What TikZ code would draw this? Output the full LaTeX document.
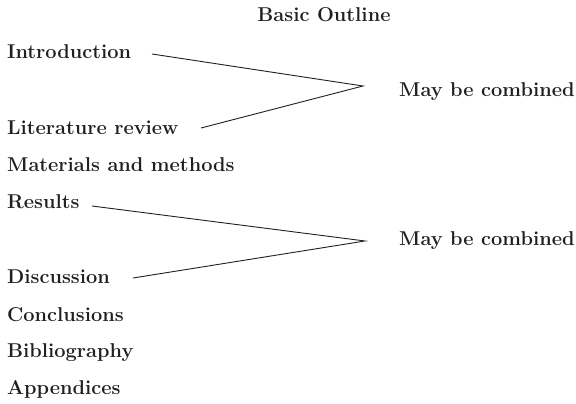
\documentclass[tikz,border=0pt]{standalone}
\usepackage{tikz}
\usetikzlibrary{positioning}
\definecolor{inkgray}{HTML}{231F20}

\begin{document}
\begin{tikzpicture}[x=1pt, y=1pt,
  item/.style={anchor=base west, inner sep=0pt, text=inkgray, font=\fontsize{20}{24}\selectfont\bfseries},
  joinline/.style={draw=inkgray, line width=0.9pt}]

  \useasboundingbox (0, 0) rectangle (576, -404);

  \node[item, anchor=base] (title) at (324, -22) {Basic Outline};

  \node[item] (intro) at (7, -59) {Introduction};
  \node[item] (lit) at (7, -134) {Literature review};
  \node[item] (mat) at (7, -171) {Materials and methods};
  \node[item] (res) at (7, -208) {Results};
  \node[item] (disc) at (7, -283) {Discussion};
  \node[item] (concl) at (7, -321) {Conclusions};
  \node[item] (biblio) at (7, -357) {Bibliography};
  \node[item] (app) at (7, -394) {Appendices};

  \node[item] (comb1) at (399, -96) {May be combined};
  \node[item] (comb2) at (399, -245) {May be combined};

  % the two joins
  \coordinate (tip1) at (363, -86);
  \coordinate (tip2) at (365, -241);
  \coordinate (introend) at (152, -54);
  \coordinate (litend) at (201, -128);
  \coordinate (resend) at (92, -206);
  \coordinate (discend) at (133, -278);

  \draw[joinline] (introend) -- (tip1) -- (litend);
  \draw[joinline] (resend) -- (tip2) -- (discend);

\end{tikzpicture}
\end{document}
